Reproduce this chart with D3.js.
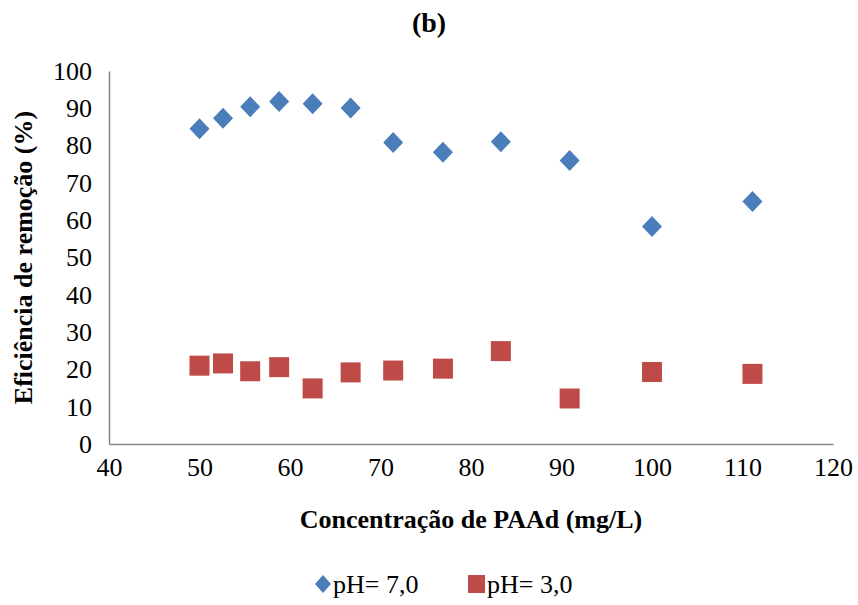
<!DOCTYPE html>
<html>
<head>
<meta charset="utf-8">
<script src="https://cdn.jsdelivr.net/npm/d3@7"></script>
<style>
  html, body { margin: 0; padding: 0; background: #fff; }
  svg { display: block; }
</style>
</head>
<body>
<svg id="chart" width="858" height="605"></svg>
<script>
// ---- data ----
const concPH7 = [50.0, 52.6, 55.6, 58.8, 62.5, 66.7, 71.4, 76.9, 83.3, 90.9, 100.0, 111.1];
const effPH7  = [84.5, 87.3, 90.4, 91.8, 91.2, 90.1, 80.8, 78.2, 81.0, 76.0, 58.3, 65.0];
const concPH3 = [50.0, 52.6, 55.6, 58.8, 62.5, 66.7, 71.4, 76.9, 83.3, 90.9, 100.0, 111.1];
const effPH3  = [21.0, 21.6, 19.5, 20.6, 14.9, 19.2, 19.7, 20.2, 24.9, 12.2, 19.3, 18.8];
const xTicks = [40, 50, 60, 70, 80, 90, 100, 110, 120];
const yTicks = [0, 10, 20, 30, 40, 50, 60, 70, 80, 90, 100];
const seriesNames = ["pH= 7,0", "pH= 3,0"];
const titleText = "(b)";
const xTitle = "Concentração de PAAd (mg/L)";
const yTitle = "Eficiência de remoção (%)";

const FONT = "'Liberation Serif'";
const svg = d3.select("#chart");
const mLeft = 109, mRight = 833, mTop = 71, mBottom = 444;

const x = d3.scaleLinear().domain([40, 120]).range([mLeft, mRight]);
const y = d3.scaleLinear().domain([0, 100]).range([mBottom, mTop]);

// axes
const xAxis = d3.axisBottom(x).tickValues(xTicks).tickSize(0).tickPadding(14).tickFormat(d3.format("d"));
const yAxis = d3.axisLeft(y).tickValues(yTicks).tickSize(0).tickPadding(17).tickFormat(d3.format("d"));

const gx = svg.append("g").attr("transform", `translate(0,${mBottom})`).call(xAxis);
const gy = svg.append("g").attr("transform", `translate(${mLeft},0)`).call(yAxis);
[gx, gy].forEach(g => {
  g.attr("font-family", null).attr("font-size", null);
  g.select(".domain").attr("stroke", "#868686").attr("stroke-width", 1.5);
  g.selectAll("text").style("font-family", FONT).style("font-size", "26px").attr("fill", "#000");
});

// markers
const pts7 = concPH7.map((c, i) => ({ x: c, y: effPH7[i] }));
const pts3 = concPH3.map((c, i) => ({ x: c, y: effPH3[i] }));

svg.append("g").selectAll("path").data(pts7).join("path")
  .attr("d", "M0,-10.5L10,0L0,10.5L-10,0Z")
  .attr("transform", d => `translate(${x(d.x)},${y(d.y)})`)
  .attr("fill", "#4A7EBB");

svg.append("g").selectAll("rect").data(pts3).join("rect")
  .attr("x", d => x(d.x) - 10).attr("y", d => y(d.y) - 10)
  .attr("width", 20).attr("height", 20)
  .attr("fill", "#BE4B48");

// titles
svg.append("text").attr("x", 429).attr("y", 32).attr("text-anchor", "middle")
  .style("font-family", FONT).style("font-size", "28px").style("font-weight", "bold").text(titleText);
svg.append("text").attr("x", (mLeft + mRight) / 2).attr("y", 528).attr("text-anchor", "middle")
  .style("font-family", FONT).style("font-size", "26px").style("font-weight", "bold").text(xTitle);
svg.append("text").attr("transform", `translate(32,${(mTop + mBottom) / 2}) rotate(-90)`)
  .attr("text-anchor", "middle")
  .style("font-family", FONT).style("font-size", "26px").style("font-weight", "bold").text(yTitle);

// legend
const lg = svg.append("g");
lg.append("path").attr("d", "M0,-9L8,0L0,9L-8,0Z").attr("transform", "translate(323,584)").attr("fill", "#4A7EBB");
lg.append("text").attr("x", 333).attr("y", 593).style("font-family", FONT).style("font-size", "26px").text(seriesNames[0]);
lg.append("rect").attr("x", 468).attr("y", 575).attr("width", 17).attr("height", 18).attr("fill", "#BE4B48");
lg.append("text").attr("x", 487).attr("y", 593).style("font-family", FONT).style("font-size", "26px").text(seriesNames[1]);
</script>
</body>
</html>
